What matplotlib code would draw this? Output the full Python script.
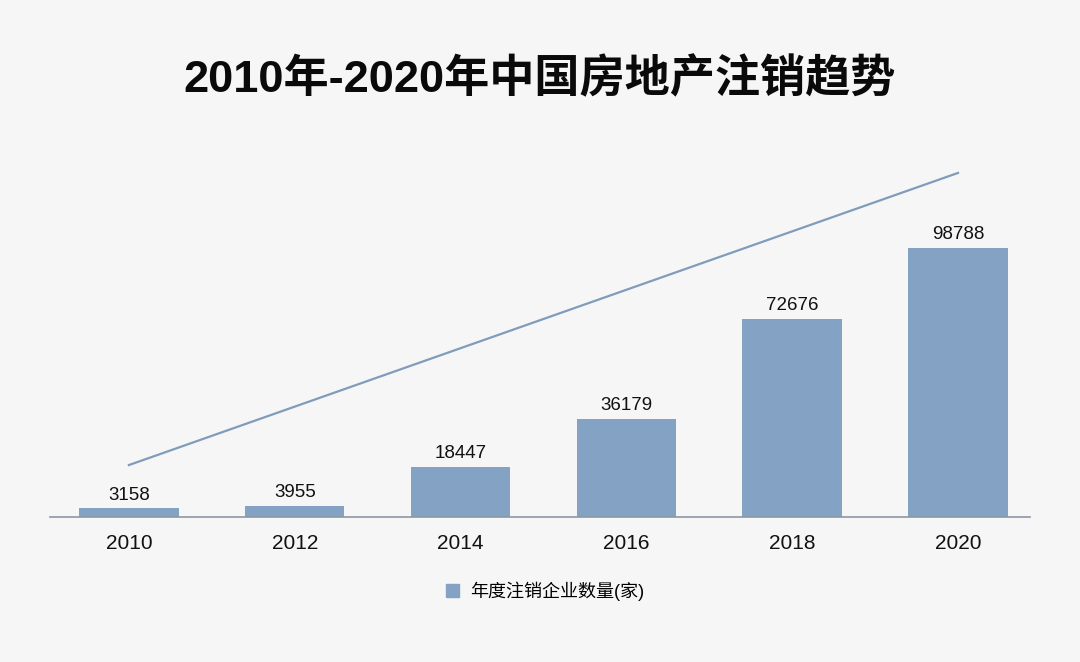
import numpy as np
import matplotlib.pyplot as plt
from matplotlib.patches import Patch

plt.rcParams['font.family'] = ['Liberation Sans', 'Noto Sans CJK SC', 'DejaVu Sans']

years = ['2010', '2012', '2014', '2016', '2018', '2020']
counts = [3158, 3955, 18447, 36179, 72676, 98788]
# decorative trend line drawn over the bars
trend_x = [0, 5]
trend_y = [19100, 126500]

title = '2010年-2020年中国房地产注销趋势'
legend_label = '年度注销企业数量(家)'

bg = '#f6f6f6'
bar_color = '#84a3c4'
line_color = '#7f9dbb'

fig = plt.figure(figsize=(10.8, 6.62), dpi=100, facecolor=bg)
ax = fig.add_axes([50 / 1080, 1 - 517 / 662, 980 / 1080, 367 / 662])
ax.set_facecolor(bg)

x = np.arange(len(years))
bars = ax.bar(x, counts, width=0.6, color=bar_color, zorder=2)
ax.plot(trend_x, trend_y, color=line_color, lw=1.6, zorder=3)

for xi, v in zip(x, counts):
    ax.text(xi, v + 1800, str(v), ha='center', va='bottom', fontsize=13.5, color='#111111')

ax.set_xlim(-0.476, 5.434)
ax.set_ylim(0, 367 / 0.00272)
ax.set_xticks(x)
ax.set_xticklabels(years, fontsize=15)
ax.tick_params(axis='x', length=0, pad=12, colors='#111111')
ax.set_yticks([])
for s in ['top', 'right', 'left']:
    ax.spines[s].set_visible(False)
ax.spines['bottom'].set_color('#8c96a6')
ax.spines['bottom'].set_linewidth(1.2)

fig.text(0.5, 1 - 79 / 662, title, ha='center', va='center', fontsize=32.5,
         fontweight='bold', color='#0a0a0a')

fig.legend(handles=[Patch(color=bar_color, label=legend_label)],
           loc='center', bbox_to_anchor=(545 / 1080, 1 - 591 / 662),
           frameon=False, fontsize=13, handlelength=0.75, handleheight=0.75,
           handletextpad=0.6)

fig.savefig('out.png', dpi=100, facecolor=bg)
